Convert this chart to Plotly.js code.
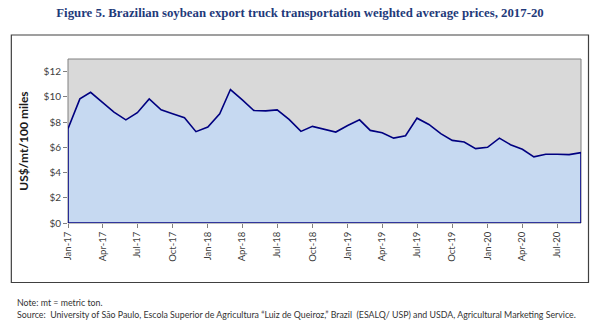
<!DOCTYPE html>
<html>
<head>
<meta charset="utf-8">
<script src="https://cdn.plot.ly/plotly-3.0.1.min.js"></script>
<style>html,body{margin:0;padding:0;background:#fff;}#chart{width:600px;height:326px;}</style>
</head>
<body>
<div id="chart"></div>
<script>
var months = ['2017-01-01','2017-02-01','2017-03-01','2017-04-01','2017-05-01','2017-06-01','2017-07-01','2017-08-01','2017-09-01','2017-10-01','2017-11-01','2017-12-01',
'2018-01-01','2018-02-01','2018-03-01','2018-04-01','2018-05-01','2018-06-01','2018-07-01','2018-08-01','2018-09-01','2018-10-01','2018-11-01','2018-12-01',
'2019-01-01','2019-02-01','2019-03-01','2019-04-01','2019-05-01','2019-06-01','2019-07-01','2019-08-01','2019-09-01','2019-10-01','2019-11-01','2019-12-01',
'2020-01-01','2020-02-01','2020-03-01','2020-04-01','2020-05-01','2020-06-01','2020-07-01','2020-08-01','2020-09-01'];
var prices = [7.47,9.84,10.36,9.57,8.79,8.18,8.74,9.84,8.97,8.66,8.34,7.24,
7.60,8.66,10.58,9.76,8.92,8.89,8.97,8.21,7.26,7.66,7.45,7.21,
7.73,8.18,7.34,7.16,6.73,6.92,8.31,7.81,7.08,6.55,6.42,5.90,
6.00,6.73,6.21,5.84,5.24,5.45,5.45,5.42,5.58];
var yTickVals = [0,2,4,6,8,10,12];
var yTickText = ['$0','$2','$4','$6','$8','$10','$12'];
var titleText = 'Figure 5. Brazilian soybean export truck transportation weighted average prices, 2017-20';
var yTitle = 'US$/mt/100 miles';
var noteText = 'Note: mt = metric ton.';
var sourceText = 'Source:  University of São Paulo, Escola Superior de Agricultura “Luiz de Queiroz,” Brazil  (ESALQ/ USP) and USDA, Agricultural Marketing Service.';

// closed polygon so the outline runs round the whole area like the original
var xs = [months[0]].concat(months, [months[months.length-1], months[0]]);
var ys = [0].concat(prices, [0, 0]);

var trace = {
  x: xs, y: ys, type: 'scatter', mode: 'lines', fill: 'toself',
  fillcolor: '#C6D9F1', line: {color: '#000080', width: 1.6},
  hoverinfo: 'skip', showlegend: false
};

var W = 513.3, H = 164, L = 67.7, B = 223;
function px(x){ return (x - L) / W; }
function py(y){ return (B - y) / H; }

var layout = {
  width: 600, height: 326,
  margin: {l: 67.7, r: 19, t: 59, b: 103, pad: 0},
  paper_bgcolor: '#ffffff', plot_bgcolor: '#D9D9D9',
  font: {family: 'Lato, "Open Sans", sans-serif', size: 10, color: '#404040'},
  title: {text: '<b>' + titleText + '</b>', x: 0.5, xanchor: 'center', y: 1 - 12.5/326, yanchor: 'middle',
          font: {family: '"Liberation Serif", "DejaVu Serif", serif', size: 12.8, color: '#1F3A7A'}},
  xaxis: {
    type: 'date', range: [months[0], months[months.length-1]],
    tick0: months[0], dtick: 'M3', tickformat: '%b-%y', tickangle: -90,
    ticks: 'outside', ticklen: 4, tickcolor: '#808080',
    showgrid: false, zeroline: false, showline: false,
    tickfont: {family: 'Lato, sans-serif', size: 9.5, color: '#404040'}
  },
  yaxis: {
    range: [0, 13], tickvals: yTickVals, ticktext: yTickText,
    ticks: 'outside', ticklen: 4, tickcolor: '#808080',
    showgrid: false, zeroline: false, showline: false,
    tickfont: {family: 'Lato, sans-serif', size: 10, color: '#404040'},
    title: {text: '<b>' + yTitle + '</b>', standoff: 12, font: {family: 'Lato, sans-serif', size: 12, color: '#1a1a1a'}}
  },
  shapes: [
    {type: 'rect', xref: 'paper', yref: 'paper', x0: 0, x1: 1, y0: 0, y1: 1, line: {color: '#808080', width: 1}, fillcolor: 'rgba(0,0,0,0)', layer: 'below'},
    {type: 'rect', xref: 'paper', yref: 'paper', x0: px(11), x1: px(588.5), y0: py(282.5), y1: py(35), line: {color: '#404040', width: 1.2}, fillcolor: 'rgba(0,0,0,0)'}
  ],
  annotations: [
    {text: noteText, xref: 'paper', yref: 'paper', x: px(15), y: py(302), xanchor: 'left', yanchor: 'middle', showarrow: false,
     font: {family: 'Lato, sans-serif', size: 8.8, color: '#333333'}},
    {text: sourceText, xref: 'paper', yref: 'paper', x: px(15), y: py(314.5), xanchor: 'left', yanchor: 'middle', showarrow: false,
     font: {family: 'Lato, sans-serif', size: 8.8, color: '#333333'}}
  ]
};

Plotly.newPlot('chart', [trace], layout, {displayModeBar: false, staticPlot: true});
</script>
</body>
</html>
